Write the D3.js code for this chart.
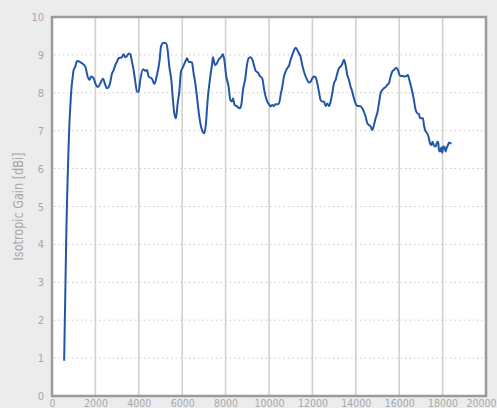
<!DOCTYPE html>
<html><head><meta charset="utf-8">
<script src="https://cdn.jsdelivr.net/npm/d3@7"></script>
<style>
html,body{margin:0;padding:0;background:#ececec;}
svg{display:block;}
text{font-family:"Liberation Sans Narrow","DejaVu Sans Condensed","Roboto",sans-serif;}
</style></head>
<body><svg id="c" width="497" height="408"></svg>
<script>
const freqs = [560,660,700,760,800,850,890,950,997,1074,1151,1381,1535,1642,1734,1796,1919,1996,2118,2226,2349,2456,2533,2656,2764,2840,2917,2994,3071,3224,3301,3378,3455,3532,3608,3685,3762,3839,3916,3992,4069,4192,4300,4376,4453,4607,4714,4837,4960,5022,5144,5252,5329,5406,5498,5574,5636,5713,5790,5866,5943,6020,6143,6220,6296,6450,6527,6604,6680,6788,6911,7018,7095,7172,7295,7372,7418,7510,7602,7679,7802,7878,7940,8032,8140,8216,8293,8339,8416,8524,8646,8723,8800,8908,8984,9061,
9153,9229,9306,9383,9491,9583,9690,9767,9844,9921,9997,10074,10151,10228,10305,10381,10458,10535,10612,10689,10765,10842,10919,10996,11073,11149,11226,11303,11380,11457,11533,11610,11687,11764,11841,11917,11994,12071,12148,12225,12301,12378,12455,12532,12609,12685,12762,12839,12916,12993,13069,13146,13223,13300,13377,13453,13530,13607,13684,13761,13837,13914,13991,14068,14145,14221,14298,14375,14452,14529,14605,14682,14759,14836,14913,14989,15066,15143,15220,15297,15373,15450,15527,15604,15681,15757,15865,15942,16019,16095,16172,16249,16326,16403,16449,16525,16602,16679,16756,16833,16909,16955,17017,17094,17140,17217,17293,17370,17416,17478,17539,17601,17677,17754,17800,17831,17877,17939,17985,18031,18092,18138,18184,18246,18307,18399];
const gains = [0.93,4.3,5.3,6.5,7.15,7.7,8.07,8.4,8.6,8.69,8.84,8.78,8.69,8.43,8.34,8.43,8.38,8.25,8.15,8.25,8.37,8.21,8.12,8.21,8.51,8.6,8.73,8.82,8.91,8.94,9.02,8.94,8.97,9.04,9.02,8.82,8.6,8.29,8.03,8.03,8.34,8.62,8.58,8.6,8.43,8.37,8.23,8.47,8.87,9.22,9.32,9.31,9.13,8.69,8.34,7.81,7.46,7.33,7.72,8.03,8.56,8.66,8.82,8.91,8.82,8.8,8.51,8.25,7.9,7.37,7.02,6.93,7.2,7.81,8.43,8.73,8.94,8.73,8.78,8.87,8.95,9.02,8.87,8.43,8.16,7.81,7.77,7.85,7.68,7.64,7.59,7.68,8.07,8.38,8.73,8.91,
8.94,8.88,8.73,8.58,8.53,8.44,8.38,8.12,7.9,7.77,7.7,7.64,7.68,7.65,7.7,7.7,7.72,7.94,8.16,8.43,8.56,8.65,8.71,8.87,9.0,9.11,9.19,9.13,9.04,8.95,8.73,8.56,8.43,8.34,8.27,8.29,8.38,8.43,8.41,8.25,8.03,7.81,7.77,7.77,7.65,7.72,7.65,7.77,7.99,8.25,8.34,8.51,8.65,8.69,8.76,8.87,8.73,8.47,8.34,8.16,8.03,7.85,7.72,7.65,7.65,7.64,7.59,7.5,7.37,7.2,7.15,7.11,7.02,7.15,7.33,7.46,7.72,7.99,8.07,8.12,8.15,8.21,8.25,8.43,8.56,8.6,8.66,8.6,8.47,8.44,8.44,8.43,8.44,8.47,8.38,8.21,8.03,7.81,7.55,7.46,7.44,7.33,7.33,7.33,7.15,6.98,6.93,6.8,6.67,6.62,6.71,6.61,6.58,6.71,6.69,6.49,6.45,6.56,6.42,6.58,6.56,6.45,6.54,6.62,6.69,6.65];
const xTicks = [0,2000,4000,6000,8000,10000,12000,14000,16000,18000,20000];
const yTicks = [0,1,2,3,4,5,6,7,8,9,10];
const yTitle = "Isotropic Gain [dBi]";

const data = freqs.map((f,i)=>({f, g: gains[i]}));
const L=52, T=17, R=486, B=396;
const svg = d3.select("#c");
const x = d3.scaleLinear().domain([0,20000]).range([L,R]);
const y = d3.scaleLinear().domain([0,10]).range([B,T]);

svg.append("rect").attr("x",L).attr("y",T).attr("width",R-L).attr("height",B-T).attr("fill","#ffffff");

svg.append("g").selectAll("line").data(yTicks.filter(d=>d>0&&d<10)).join("line")
  .attr("x1",L+2).attr("x2",R-2).attr("y1",d=>y(d)).attr("y2",d=>y(d))
  .attr("stroke","#c8c8c8").attr("stroke-width",1).attr("stroke-dasharray","1.5,3");
svg.append("g").selectAll("line").data(xTicks.filter(d=>d>0&&d<20000)).join("line")
  .attr("x1",d=>x(d)).attr("x2",d=>x(d)).attr("y1",T).attr("y2",B)
  .attr("stroke","#d0d0d0").attr("stroke-width",1.6);

svg.append("rect").attr("x",L).attr("y",T).attr("width",R-L).attr("height",B-T)
  .attr("fill","none").attr("stroke","#9a9a9a").attr("stroke-width",2.5);

svg.append("path").datum(data)
  .attr("d", d3.line().x(d=>x(d.f)).y(d=>y(d.g)).curve(d3.curveMonotoneX))
  .attr("fill","none").attr("stroke","#2456a8").attr("stroke-width",2).attr("stroke-linejoin","round");

const yAxis = d3.axisLeft(y).tickValues(yTicks).tickSize(0).tickPadding(8);
const gy = svg.append("g").attr("transform",`translate(${L},0)`).call(yAxis);
gy.select(".domain").remove();
gy.selectAll("text").attr("fill","#a8a8a8").style("font-size","11px");

const xAxis = d3.axisBottom(x).tickValues(xTicks).tickSize(0).tickPadding(4).tickFormat(d3.format("d"));
const gx = svg.append("g").attr("transform",`translate(0,${B})`).call(xAxis);
gx.select(".domain").remove();
gx.selectAll("text").attr("fill","#a8a8a8").style("font-size","10.5px");
gx.selectAll(".tick").filter(d=>d===20000).select("text")
  .attr("text-anchor","end").attr("x",496-x(20000));

svg.append("text").attr("transform",`translate(23,${(T+B)/2}) rotate(-90)`)
  .attr("text-anchor","middle").attr("fill","#a8a8a8").style("font-size","14px")
  .attr("textLength",108).attr("lengthAdjust","spacingAndGlyphs").text(yTitle);
</script></body></html>
